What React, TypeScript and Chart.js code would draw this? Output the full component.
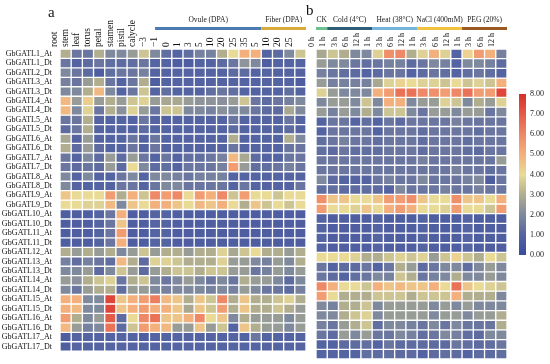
import React, { useEffect, useRef } from "react";
import { Chart, registerables } from "chart.js";
Chart.register(...registerables);

const FONT = "'Liberation Serif', 'Times New Roman', serif";

const genes = [
  "GbGATL1_At", "GbGATL1_Dt", "GbGATL2_Dt", "GbGATL3_At", "GbGATL3_Dt",
  "GbGATL4_At", "GbGATL4_Dt", "GbGATL5_At", "GbGATL5_Dt", "GbGATL6_At",
  "GbGATL6_Dt", "GbGATL7_At", "GbGATL7_Dt", "GbGATL8_At", "GbGATL8_Dt",
  "GbGATL9_At", "GbGATL9_Dt", "GbGATL10_At", "GbGATL10_Dt", "GbGATL11_At",
  "GbGATL11_Dt", "GbGATL12_At", "GbGATL13_At", "GbGATL13_Dt", "GbGATL14_At",
  "GbGATL14_Dt", "GbGATL15_At", "GbGATL15_Dt", "GbGATL16_At", "GbGATL16_Dt",
  "GbGATL17_At", "GbGATL17_Dt",
];

const tissueLabels = [
  "root", "stem", "leaf", "torus", "petal", "stamen", "pistil", "calycle",
  "\u22123", "\u22121", "0", "1", "3", "5", "10", "20", "25", "35",
  "5", "10", "20", "25",
];

const stressLabels = [
  "0 h", "1 h", "3 h", "6 h", "12 h", "1 h", "3 h", "6 h", "12 h",
  "1 h", "3 h", "6 h", "12 h", "1 h", "3 h", "6 h", "12 h",
];

const tissueGroups = [
  { label: "Ovule (DPA)", from: 8, to: 17, color: "#4a7bb3" },
  { label: "Fiber (DPA)", from: 18, to: 21, color: "#d9a93a" },
];

const stressGroups = [
  { label: "CK", from: 0, to: 0, color: "#6cc08f" },
  { label: "Cold (4\u00b0C)", from: 1, to: 4, color: "#2d5d77" },
  { label: "Heat (38\u00b0C)", from: 5, to: 8, color: "#74b3da" },
  { label: "NaCl (400mM)", from: 9, to: 12, color: "#f0c23e" },
  { label: "PEG (20%)", from: 13, to: 16, color: "#9a5a22" },
];

// tissue / ovule / fiber expression (rows follow genes)
const panelA: number[][] = [
  [3, 1.5, 1.5, 3, 2, 2, 2.5, 3.5, 2, 1.3, 1, 1.3, 1.8, 1.8, 3, 4, 5, 5, 1, 1.2, 2, 3.5],
  [1.5, 1, 1.2, 1.5, 1.3, 1.2, 1.3, 1.5, 1, 1, 0.8, 0.8, 1, 1, 1.2, 1.5, 2.3, 2, 0.8, 1, 1, 1],
  [2, 1.5, 1.2, 0.8, 1.3, 1.5, 1.5, 1.8, 1, 1, 1, 1, 1, 1, 1, 1.2, 1.2, 1, 1, 1, 1, 1],
  [1.8, 1.5, 2.5, 3, 1.5, 1, 1.5, 3, 0.8, 1, 1, 1, 1, 1, 1, 1, 1, 1, 1, 1, 1, 0.8],
  [2, 2, 3, 4.8, 2, 1, 1.5, 3.5, 1, 1.3, 1, 1, 1, 1.3, 1.5, 1.3, 1, 1, 1, 1, 1.3, 1],
  [4.8, 2.5, 4.3, 2.5, 3, 2.5, 3.5, 3.8, 2.5, 2.8, 2.8, 2.5, 2.3, 2.3, 2.2, 2.5, 3.5, 1.5, 1.2, 1.5, 1.8, 2],
  [4.8, 2, 3.8, 1.5, 3, 2.2, 3.8, 2.5, 1.5, 3.5, 3.5, 2, 2, 1.8, 2.2, 2, 2, 1.5, 1.2, 1.2, 2.8, 2],
  [1.5, 1.5, 3, 1, 1, 1, 1, 1.5, 1, 1, 1, 1, 1, 1, 1, 1.5, 1, 1, 1, 1, 1.5, 1],
  [1.2, 1.5, 3, 1, 1, 1, 1, 1.2, 1, 1, 1, 1, 1, 1, 1, 1.2, 1, 1, 1, 1, 1.2, 1],
  [2.8, 1, 2.5, 1, 1, 1, 1.5, 1, 1.5, 1, 1, 1, 1, 1, 1, 3, 1, 1, 1, 1, 3, 2],
  [3, 1.2, 2.5, 1.2, 1, 1, 1.5, 1, 1.5, 1, 1, 1, 1, 1, 1, 1.5, 1, 1, 1, 1, 1.5, 1.5],
  [1.5, 1, 2, 1.2, 2.5, 1.2, 2.5, 1.5, 1, 1.5, 1, 1.3, 1.3, 1.5, 1.8, 4.8, 2.8, 1.2, 1, 1, 1.5, 1.5],
  [1.5, 1.2, 1.5, 1.2, 2.5, 1.2, 4, 2, 1.2, 1.3, 1, 1.5, 1.5, 1.5, 1.8, 5.5, 2.5, 1.3, 1.3, 1.5, 1.8, 1.5],
  [2, 1, 2, 1, 1, 1.5, 2, 1, 2, 2, 1.8, 1.5, 1.8, 1.8, 1.8, 1, 1, 1, 1, 1, 1, 1],
  [2, 1, 1, 1, 1, 1.5, 1.5, 1, 1.5, 2, 2, 1.5, 1.5, 1.5, 1.5, 1, 1.5, 1, 1, 1, 1, 1.5],
  [4.5, 4, 4, 4, 5.5, 3, 5, 3.5, 6, 5.5, 6, 4, 5.5, 5, 6, 3.5, 5.5, 4, 4, 3.5, 4, 4],
  [4, 4, 3.8, 3.8, 4.8, 2, 4.5, 4, 5, 5, 4.5, 4, 4.8, 4.5, 5, 4, 3, 4.5, 3.5, 4, 3.5, 4],
  [0.8, 0.8, 0.8, 1, 1.5, 5, 0.8, 0.8, 1, 1, 0.8, 0.8, 0.8, 0.8, 0.8, 0.8, 0.8, 0.8, 0.8, 0.8, 0.8, 0.8],
  [0.8, 0.8, 0.8, 1, 1.5, 4.5, 0.8, 0.8, 1, 1, 0.8, 0.8, 0.8, 0.8, 0.8, 0.8, 0.8, 0.8, 0.8, 0.8, 0.8, 0.8],
  [0.8, 0.8, 0.8, 1, 1.5, 5.5, 0.8, 0.8, 1, 1, 0.8, 0.8, 0.8, 0.8, 0.8, 0.8, 0.8, 0.8, 0.8, 0.8, 0.8, 0.8],
  [0.8, 0.8, 0.8, 1, 1.5, 5, 0.8, 0.8, 1, 1, 0.8, 0.8, 0.8, 0.8, 0.8, 0.8, 0.8, 0.8, 0.8, 0.8, 0.8, 0.8],
  [3, 2.5, 3, 2.5, 3, 2, 2.5, 3.5, 2.5, 3, 3, 2.5, 3, 3, 3.8, 2.8, 3.5, 4, 3, 3, 2.5, 3],
  [1.8, 1.3, 1.8, 1.5, 1.3, 4.8, 3, 1.2, 3.8, 3.8, 3.5, 3, 3, 3, 3.8, 2.5, 2.5, 2, 1.8, 2.5, 2, 3],
  [2, 2, 2.5, 1.2, 2, 3.5, 2.5, 1.2, 2.5, 3, 3.5, 3.5, 3, 3.5, 3.5, 2.5, 2.5, 1.5, 1.8, 2.5, 2, 2.5],
  [2.5, 2.2, 3, 3.5, 3.8, 1.5, 3, 3.5, 2, 1.5, 2, 2.5, 2, 1.5, 2, 1.5, 3, 2.5, 2.5, 2, 1.2, 2],
  [2, 1.5, 2.5, 3, 3, 1.3, 2.5, 2.5, 2, 1.8, 2, 2, 2, 1.8, 2, 1.8, 2.5, 2, 1.5, 1.5, 1.2, 1.8],
  [5, 5, 2, 2, 7.5, 4.5, 5, 5.5, 6.2, 4.8, 4.5, 3, 4.5, 3.5, 6, 3, 4.5, 3, 3, 3.5, 3.8, 3],
  [5, 4.8, 2, 2, 7.5, 4.5, 5, 5.5, 5, 5, 4.5, 2.8, 4.5, 3.5, 5.5, 3, 4.5, 3, 3, 3.5, 3, 2.5],
  [5.5, 3, 2, 2.5, 7, 1.2, 4, 6, 6.5, 4.5, 4.5, 5, 6, 4, 4.5, 2, 3, 2.5, 2.5, 2.5, 2, 2.5],
  [4.8, 2.5, 1.8, 2, 6.5, 1.2, 3.5, 5.5, 5, 4.8, 2.5, 2.5, 4.5, 2.5, 3.5, 1, 4.5, 3, 2.5, 2.5, 2, 2.5],
  [0.8, 1, 1, 1, 1, 1, 1, 0.8, 1, 1, 1, 1, 1, 1, 1, 1, 1, 1.5, 1, 1, 1, 1],
  [0.8, 1, 1, 1, 1, 1, 1, 1, 1, 1, 1, 1, 1, 1, 1, 1, 1, 1, 1, 1, 1, 1],
];

// abiotic stress expression (rows follow genes)
const panelB: number[][] = [
  [2.8, 3.5, 3, 2, 2, 3.8, 5.8, 6, 3, 3.8, 5, 3.8, 1, 4.2, 5.5, 5, 1.8],
  [2.5, 2, 2, 1.5, 1.3, 1.5, 1.8, 1.8, 1.2, 1.5, 2, 1.8, 1, 2, 2, 1.8, 1.2],
  [1.8, 1.5, 1.3, 1.2, 1, 1.2, 1.5, 1.5, 1, 1.2, 1.5, 1.3, 1, 1.3, 1.5, 1.3, 1],
  [2.5, 1.8, 1.8, 1.8, 1.8, 2.8, 3.8, 4.2, 4, 3.8, 3.8, 3.5, 4, 3.5, 3.8, 3.5, 5],
  [3.8, 2.5, 2, 2, 2, 5, 5.5, 6.5, 6.5, 6, 5.8, 5.5, 6, 6.5, 5.5, 5.5, 7.5],
  [2, 2.5, 2.5, 2, 3.5, 2, 5, 5, 2, 2.5, 2.5, 3.8, 3.5, 2, 3, 2.5, 3.8],
  [2.5, 1.8, 2.5, 2, 3, 2, 3.5, 3.5, 2, 1.5, 2.5, 2.5, 2, 2.5, 2.5, 1.5, 2],
  [1, 1.5, 1.5, 1, 1.3, 1, 1.5, 1.2, 1.5, 1.5, 1.5, 1.5, 1.8, 1.5, 1.5, 1.5, 1.5],
  [1, 1.5, 1.5, 1.5, 1.5, 1, 1.5, 1.5, 1.5, 1.3, 1.5, 1.5, 1.5, 1.5, 1.3, 1.5, 1.5],
  [1.3, 1.5, 1.8, 1.5, 1.5, 1.3, 1.5, 1.5, 1.5, 1.3, 1.5, 1.5, 1.5, 1.3, 1.5, 1.5, 1.5],
  [1.3, 1.2, 1.5, 1.3, 1.3, 1.3, 1.5, 1.5, 1.5, 1.3, 1.5, 1.5, 1.5, 1.3, 1.2, 1.5, 1.5],
  [1.5, 1.5, 1.5, 1.5, 1.5, 1.5, 1.5, 1.5, 1.5, 1.8, 1.5, 1.5, 1.5, 1.5, 1.5, 1.5, 2.5],
  [1.5, 1.5, 1.5, 1.5, 1.5, 1.5, 1.5, 1.5, 1.5, 1.5, 1.5, 1.5, 1.8, 1.5, 1.5, 1.3, 1.5],
  [2, 1.2, 1, 1, 1, 1.5, 1.8, 1.5, 1.5, 2, 1.5, 1.5, 1.5, 1.8, 2, 0.8, 1.5],
  [1.3, 1.3, 1.2, 1.2, 1.3, 1.2, 1, 2, 1.5, 1.5, 1.5, 1.8, 1.5, 1.5, 1.8, 1.5, 1.5],
  [5.8, 4.5, 4.5, 4, 4, 4.5, 5.5, 5.5, 5.8, 4.5, 4, 4, 5.8, 4.5, 4.5, 4, 5],
  [5.5, 4, 4, 3.8, 4.5, 4, 5, 5.5, 5, 4, 4, 3.8, 5.5, 4, 4, 3.5, 5.5],
  [1, 0.8, 0.8, 0.8, 0.8, 1, 0.8, 0.8, 0.8, 1, 0.8, 0.8, 0.8, 1, 0.8, 0.8, 0.8],
  [1, 0.8, 0.8, 0.8, 0.8, 1, 0.8, 0.8, 0.8, 1, 0.8, 0.8, 0.8, 1, 0.8, 0.8, 0.8],
  [1, 0.8, 0.8, 0.8, 0.8, 1, 0.8, 0.8, 0.8, 1, 0.8, 0.8, 0.8, 1, 0.8, 0.8, 0.8],
  [1, 0.8, 0.8, 0.8, 0.8, 1, 0.8, 0.8, 0.8, 1, 0.8, 0.8, 0.8, 1, 0.8, 0.8, 0.8],
  [4, 4, 4, 3.8, 3, 3, 3.5, 3.8, 3.5, 3.8, 2.5, 3.5, 4.2, 3.5, 3, 4, 3.5],
  [1.5, 1, 1.2, 1.2, 1.5, 1, 1.5, 3, 2.5, 1.2, 1.5, 2, 2, 1.3, 2, 2.5, 2],
  [1.5, 1.2, 1, 1.3, 1.5, 2, 1.8, 3.5, 3, 1.5, 1.8, 2, 3, 2, 2, 2.5, 2],
  [6, 5, 4, 4, 3.5, 5, 4.5, 4.8, 4.5, 4.5, 5, 4, 6.5, 4.5, 4, 3.8, 3.5],
  [5.5, 4, 3, 3, 3, 3.5, 3.5, 3.5, 3, 3.5, 3.5, 3.5, 5, 3, 3, 3, 2],
  [2, 1.8, 3, 3, 3.5, 2, 2.5, 2.5, 2.5, 2.5, 2, 2.5, 2, 2.5, 2, 2, 2],
  [2, 2, 3, 3.5, 3.8, 2, 2.5, 2.5, 2.5, 2.5, 2, 2.5, 2.5, 2, 2.5, 2.5, 3],
  [1.8, 1.5, 2.5, 3, 3.5, 1.3, 2, 2, 1.8, 1.5, 2, 1.5, 2, 1.5, 1.5, 1.5, 3],
  [1.5, 1.2, 2.5, 2, 2.5, 1.5, 1.5, 2, 1.8, 1.3, 1.5, 2, 1.8, 1.3, 1.2, 2, 2],
  [1, 1, 1.2, 1.2, 1.3, 1, 1.5, 1.2, 1.2, 1.2, 1.2, 1.2, 1.5, 1.3, 1.2, 1.3, 1.5],
  [1, 1, 1, 1, 1.3, 1.2, 1.3, 1.2, 1.2, 1, 1.2, 1.3, 1.2, 1, 1.2, 1.2, 1.3],
];

const colorTicks = [0, 1, 2, 3, 4, 5, 6, 7, 8];
const scaleMax = 8;

const colorStops: [number, string][] = [
  [0, "#3a4b9d"],
  [1, "#5463a1"],
  [2, "#7f899e"],
  [3, "#b1ae8f"],
  [4, "#e9da96"],
  [5, "#f3b07c"],
  [6, "#ee8866"],
  [7, "#e35c48"],
  [8, "#d62f29"],
];

function hexToRgb(h: string) {
  const n = parseInt(h.slice(1), 16);
  return [(n >> 16) & 255, (n >> 8) & 255, n & 255];
}

function colorFor(v: number) {
  const c = Math.max(0, Math.min(scaleMax, v));
  for (let i = 0; i < colorStops.length - 1; i++) {
    const [v0, c0] = colorStops[i];
    const [v1, c1] = colorStops[i + 1];
    if (c <= v1) {
      const t = (c - v0) / (v1 - v0);
      const a = hexToRgb(c0);
      const b = hexToRgb(c1);
      const m = a.map((x, k) => Math.round(x + (b[k] - x) * t));
      return `rgb(${m[0]},${m[1]},${m[2]})`;
    }
  }
  return colorStops[colorStops.length - 1][1];
}

type Group = { label: string; from: number; to: number; color: string };

function makeHeatmap(
  canvas: HTMLCanvasElement,
  values: number[][],
  colLabels: string[],
  groups: Group[],
  opts: {
    showRows: boolean;
    padLeft: number;
    padRight: number;
    colFont: number;
    letter: string;
    letterX: number;
    letterY: number;
    groupStartAtCenter: boolean;
  }
) {
  const datasets = values.map((row, r) => ({
    label: genes[r],
    data: row.map(() => [r, r + 1]),
    backgroundColor: row.map(colorFor),
    borderColor: "#ffffff",
    borderWidth: 1,
    borderSkipped: false as const,
    grouped: false,
    barPercentage: 1,
    categoryPercentage: 1,
    xAxisID: "x",
    yAxisID: "y",
  }));

  const headerPlugin = {
    id: "headers",
    afterDraw(chart: any) {
      const ctx = chart.ctx;
      const xs = chart.scales.x;
      const w = xs.getPixelForValue(1) - xs.getPixelForValue(0);
      ctx.save();
      groups.forEach((g, gi) => {
        let x0 = xs.getPixelForValue(g.from) - w / 2;
        if (opts.groupStartAtCenter && gi === 0) x0 = xs.getPixelForValue(g.from);
        const x1 = xs.getPixelForValue(g.to) + w / 2;
        ctx.fillStyle = g.color;
        ctx.fillRect(x0, 27, x1 - x0, 3);
        ctx.fillStyle = "#222";
        ctx.font = `7.5px ${FONT}`;
        ctx.textAlign = "center";
        ctx.textBaseline = "middle";
        ctx.fillText(g.label, (x0 + x1) / 2, 20);
      });
      ctx.font = `15px ${FONT}`;
      ctx.textAlign = "left";
      ctx.textBaseline = "alphabetic";
      ctx.fillStyle = "#111";
      ctx.fillText(opts.letter, opts.letterX, opts.letterY);
      ctx.restore();
    },
  };

  return new Chart(canvas, {
    type: "bar",
    data: { labels: colLabels, datasets: datasets as any },
    options: {
      animation: false,
      responsive: false,
      maintainAspectRatio: false,
      layout: { padding: { left: opts.padLeft, right: opts.padRight, top: 0, bottom: 5 } },
      plugins: { legend: { display: false }, tooltip: { enabled: false } },
      scales: {
        x: {
          type: "category",
          position: "top",
          offset: true,
          grid: { display: false, drawTicks: false },
          border: { display: false },
          ticks: {
            autoSkip: false,
            minRotation: 90,
            maxRotation: 90,
            padding: 2,
            color: "#111",
            font: { family: FONT, size: opts.colFont },
          },
          afterFit: (s: any) => {
            s.height = 49;
          },
        },
        y: {
          type: "linear",
          min: 0,
          max: genes.length,
          reverse: true,
          display: false,
        },
        rows: {
          type: "category",
          labels: genes,
          position: "left",
          offset: true,
          display: opts.showRows,
          grid: { display: false, drawTicks: false },
          border: { display: false },
          ticks: {
            autoSkip: false,
            padding: 8,
            color: "#111",
            font: { family: FONT, size: 8 },
          },
          afterFit: (s: any) => {
            s.width = opts.showRows ? 60 : 0;
          },
        },
      } as any,
    },
    plugins: [headerPlugin],
  });
}

function makeColorbar(canvas: HTMLCanvasElement) {
  return new Chart(canvas, {
    type: "bar",
    data: {
      labels: [""],
      datasets: [
        {
          data: [[colorTicks[0], colorTicks[colorTicks.length - 1]]] as any,
          backgroundColor: (ctx: any) => {
            const area = ctx.chart.chartArea;
            if (!area) return colorStops[0][1];
            const g = ctx.chart.ctx.createLinearGradient(0, area.bottom, 0, area.top);
            colorStops.forEach(([v, c]) => g.addColorStop(v / scaleMax, c));
            return g;
          },
          borderWidth: 0,
          barPercentage: 1,
          categoryPercentage: 1,
        },
      ],
    },
    options: {
      animation: false,
      responsive: false,
      layout: { padding: { left: 4, right: 0, top: 10, bottom: 14 } },
      plugins: { legend: { display: false }, tooltip: { enabled: false } },
      scales: {
        x: { display: false },
        y: {
          position: "right",
          min: 0,
          max: scaleMax,
          grid: { display: false, drawTicks: false },
          border: { display: false },
          ticks: {
            stepSize: 1,
            padding: 4,
            color: "#222",
            font: { family: FONT, size: 8 },
            callback: (v: any) => Number(v).toFixed(2),
          },
          afterFit: (s: any) => {
            s.width = 24;
          },
        },
      } as any,
    },
  });
}

export default function App() {
  const aRef = useRef<HTMLCanvasElement>(null);
  const bRef = useRef<HTMLCanvasElement>(null);
  const cRef = useRef<HTMLCanvasElement>(null);

  useEffect(() => {
    const a = makeHeatmap(aRef.current!, panelA, tissueLabels, tissueGroups, {
      showRows: true,
      padLeft: 0,
      padRight: 6,
      colFont: 9.5,
      letter: "a",
      letterX: 48,
      letterY: 17,
      groupStartAtCenter: true,
    });
    const b = makeHeatmap(bRef.current!, panelB, stressLabels, stressGroups, {
      showRows: false,
      padLeft: 16,
      padRight: 6,
      colFont: 8,
      letter: "b",
      letterX: 6,
      letterY: 15,
      groupStartAtCenter: false,
    });
    const c = makeColorbar(cRef.current!);
    return () => {
      a.destroy();
      b.destroy();
      c.destroy();
    };
  }, []);

  return (
    <div style={{ position: "fixed", left: 0, top: 0, width: 550, height: 364, background: "#fff" }}>
      <canvas ref={aRef} width={312} height={364} style={{ position: "absolute", left: 0, top: 0 }} />
      <canvas ref={bRef} width={213} height={364} style={{ position: "absolute", left: 300, top: 0 }} />
      <canvas ref={cRef} width={35} height={185} style={{ position: "absolute", left: 515, top: 84 }} />
    </div>
  );
}
